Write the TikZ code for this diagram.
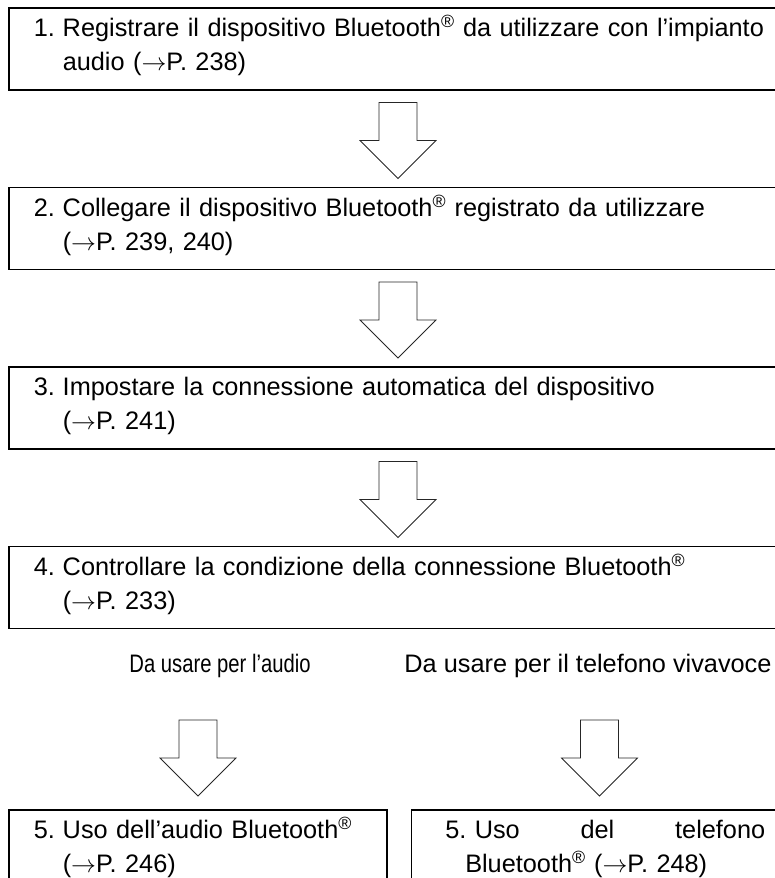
\documentclass[tikz,border=0pt]{standalone}
\usepackage{fontspec}
\setmainfont{Liberation Sans}
\newfontfamily\narrowsans[FakeStretch=0.8,Ligatures=TeX]{Liberation Sans}
\usetikzlibrary{positioning,calc}
\newcommand{\regmark}{\textsuperscript{®}}
\newcommand{\pref}[1]{($\rightarrow$P.~#1)}
\newcommand{\stepno}[1]{\rule{0pt}{22pt}\makebox[29pt][l]{#1}}
\newcommand{\stepend}{\rule[-12pt]{0pt}{12pt}}

\begin{document}
\begin{tikzpicture}[
  x=1pt, y=-1pt,
  font=\fontsize{25.3}{34}\selectfont,
  stepbox/.style={draw, line width=1.5pt, anchor=north west, align=left, inner xsep=25pt, inner ysep=0pt, minimum height=82pt, text width=745pt},
  lab/.style={inner sep=0pt},
  arrline/.style={draw=black!85, line width=0.8pt, fill=white},
  blockdown/.pic={\path[arrline] (-19,0) -- (19,0) -- (19,38) -- (38,38) -- (0,76) -- (-38,38) -- (-19,38) -- cycle;}
]
\useasboundingbox (0,0) rectangle (775,878);
\clip (0,0) rectangle (775,878);
% the four steps
\node[stepbox] (reg) at (8,7) {\stepno{1.}Registrare il dispositivo Bluetooth\regmark{} da utilizzare con l’impianto\\\hspace*{29pt}audio \pref{238}\stepend};
\node[stepbox, below=96pt of reg] (conn) {\stepno{2.}Collegare il dispositivo Bluetooth\regmark{} registrato da utilizzare\\\hspace*{29pt}\pref{239, 240}\stepend};
\node[stepbox, below=96pt of conn] (auto) {\stepno{3.}Impostare la connessione automatica del dispositivo\\\hspace*{29pt}\pref{241}\stepend};
\node[stepbox, below=96pt of auto] (ctrl) {\stepno{4.}Controllare la condizione della connessione Bluetooth\regmark\\\hspace*{29pt}\pref{233}\stepend};
\pic at ($(reg.south west)+(390,12)$) {blockdown};
\pic at ($(conn.south west)+(390,12)$) {blockdown};
\pic at ($(auto.south west)+(390,12)$) {blockdown};
% branches
\node[lab, font=\narrowsans\fontsize{25.3}{34}\selectfont] (audiolab) at ($(ctrl.south west)+(212,37)$) {Da usare per l’audio};
\node[lab] (phonelab) at ($(ctrl.south west)+(580,37)$) {Da usare per il telefono vivavoce};
\node[stepbox, text width=328pt] (useaudio) at ($(ctrl.south west)+(0,180)$) {\stepno{5.}Uso dell’audio Bluetooth\regmark\\\hspace*{29pt}\pref{246}\stepend};
\node[stepbox, inner xsep=34pt, text width=320pt] (usephone) at ($(useaudio.north east)+(23,0)$) {\rule{0pt}{22pt}\makebox[320pt][s]{5.\ Uso\hfill del\hfill telefono}\\\hspace*{20pt}Bluetooth\regmark{} \pref{248}\stepend};
\pic at ($(useaudio.north west)+(190,-89)$) {blockdown};
\pic at ($(usephone.north west)+(189,-89)$) {blockdown};
\end{tikzpicture}
\end{document}
